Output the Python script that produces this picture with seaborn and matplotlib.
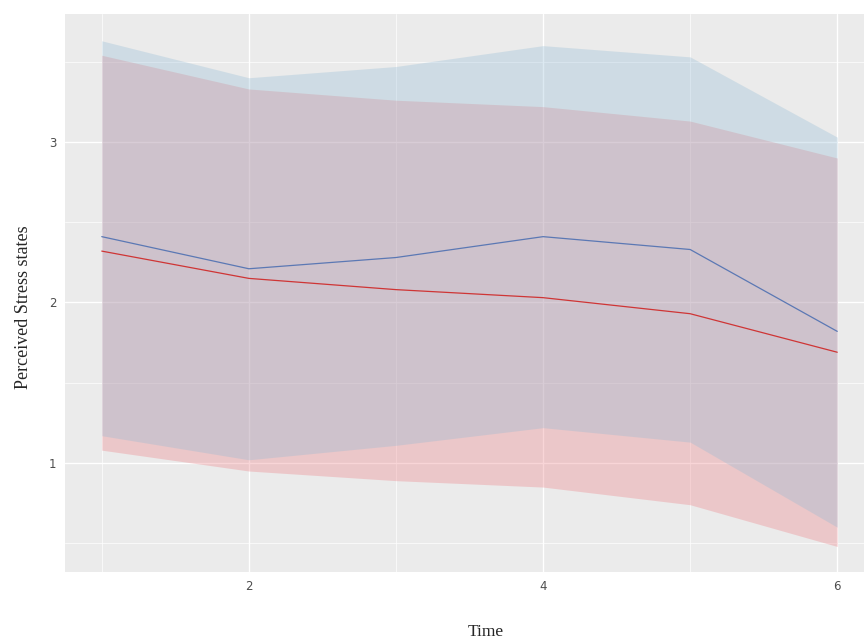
import matplotlib
matplotlib.use("Agg")
import matplotlib.pyplot as plt
import seaborn as sns
import pandas as pd

# values
time = [1, 2, 3, 4, 5, 6]
blue_mean = [2.41, 2.21, 2.28, 2.41, 2.33, 1.82]
blue_low = [1.17, 1.02, 1.11, 1.22, 1.13, 0.60]
blue_high = [3.63, 3.40, 3.47, 3.60, 3.53, 3.03]
red_mean = [2.32, 2.15, 2.08, 2.03, 1.93, 1.69]
red_low = [1.08, 0.95, 0.89, 0.85, 0.74, 0.48]
red_high = [3.54, 3.33, 3.26, 3.22, 3.13, 2.90]

x_ticks = [2, 4, 6]
y_ticks = [1, 2, 3]

df = pd.DataFrame({
    "Time": time * 2,
    "value": blue_mean + red_mean,
    "group": ["blue"] * 6 + ["red"] * 6,
})

sns.set_theme(style="darkgrid", rc={
    "axes.facecolor": "#EBEBEB",
    "grid.color": "white",
})

fig = plt.figure(figsize=(8.64, 6.41), dpi=100)
# panel spans past the right edge, as in the reference crop
ax = fig.add_axes([65 / 864, 1 - 572 / 641, (874 - 65) / 864, (572 - 14) / 641])

ax.fill_between(time, red_low, red_high, color="#EB767D", alpha=0.3, lw=0)
ax.fill_between(time, blue_low, blue_high, color="#8EB9D4", alpha=0.3, lw=0)

sns.lineplot(data=df, x="Time", y="value", hue="group",
             palette={"blue": "#5B78B4", "red": "#CF3535"},
             linewidth=0.9, legend=False, ax=ax)

ax.set_xlim(0.75, 6.25)
ax.set_ylim(0.321, 3.797)
ax.set_xticks(x_ticks)
ax.set_yticks(y_ticks)
ax.set_xticks([1, 3, 5], minor=True)
ax.set_yticks([0.5, 1.5, 2.5, 3.5], minor=True)
ax.grid(which="major", color="white", linewidth=1.0)
ax.grid(which="minor", color="white", linewidth=0.5)
for s in ax.spines.values():
    s.set_visible(False)

ax.tick_params(axis="both", which="major", length=3, width=0.8, color="#4D4D4D",
               labelcolor="#4D4D4D", labelsize=8.5, pad=3)
ax.tick_params(axis="both", which="minor", length=0)

serif = ["Liberation Serif", "DejaVu Serif"]
ax.set_xlabel("Time", family=serif, fontsize=12.5)
ax.set_ylabel("Perceived Stress states", family=serif, fontsize=13)
ax.xaxis.set_label_coords(0.52, -0.093)
ax.yaxis.set_label_coords(-0.041, 0.475)

fig.savefig("out.png", dpi=100)
